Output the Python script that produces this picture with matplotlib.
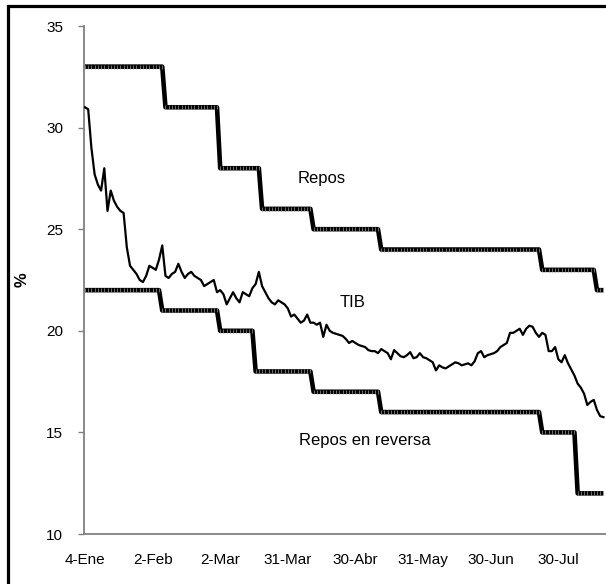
import numpy as np
import matplotlib
import matplotlib.pyplot as plt
from matplotlib.patches import Rectangle
matplotlib.use('Agg')

plt.rcParams['font.family'] = ['Liberation Sans', 'DejaVu Sans']

# business-day index, one tick label every 21 days
tick_labels = ['4-Ene', '2-Feb', '2-Mar', '31-Mar', '30-Abr', '31-May',
               '30-Jun', '30-Jul']
tick_step = 21

# step series: level and number of days at that level
repos_levels = [33, 31, 28, 26, 25, 24, 23, 22]
repos_days = [25, 17, 13, 16, 21, 50, 17, 3]
reversa_levels = [22, 21, 20, 18, 17, 16, 15, 12]
reversa_days = [24, 18, 11, 18, 21, 50, 11, 9]

tib = [31.0, 30.9, 29.0, 27.7, 27.2, 26.9, 28.0, 25.9, 26.9, 26.4,
       26.1, 25.9, 25.8, 24.1, 23.2, 23.0, 22.8, 22.5, 22.4, 22.7,
       23.2, 23.1, 23.0, 23.5, 24.2, 22.7, 22.6, 22.8, 22.9, 23.3,
       22.9, 22.6, 22.8, 22.9, 22.7, 22.6, 22.5, 22.2, 22.3, 22.4,
       22.5, 21.9, 22.0, 21.8, 21.3, 21.6, 21.9, 21.6, 21.4, 21.9,
       21.8, 21.7, 22.1, 22.3, 22.9, 22.2, 21.9, 21.6, 21.4, 21.3,
       21.5, 21.4, 21.3, 21.1, 20.7, 20.8, 20.6, 20.4, 20.5, 20.8,
       20.4, 20.4, 20.3, 20.4, 19.7, 20.3, 20.0, 19.9, 19.85, 19.8,
       19.75, 19.6, 19.4, 19.5, 19.4, 19.3, 19.25, 19.2, 19.05, 19.0,
       19.0, 18.9, 19.1, 19.0, 18.9, 18.6, 19.05, 18.9, 18.75, 18.7,
       18.8, 18.95, 18.65, 18.7, 18.9, 18.7, 18.65, 18.55, 18.45, 18.05,
       18.3, 18.2, 18.15, 18.25, 18.35, 18.45, 18.4, 18.3, 18.35, 18.4,
       18.3, 18.5, 18.9, 19.0, 18.7, 18.8, 18.85, 18.9, 19.0, 19.2,
       19.3, 19.4, 19.9, 19.9, 20.0, 20.1, 19.8, 20.1, 20.25, 20.2,
       19.9, 19.7, 19.9, 19.8, 19.0, 19.0, 19.2, 18.6, 18.45, 18.8,
       18.4, 18.1, 17.8, 17.4, 17.2, 16.9, 16.35, 16.5, 16.6, 16.1,
       15.8, 15.75]

repos = np.repeat(repos_levels, repos_days)
reversa = np.repeat(reversa_levels, reversa_days)
x = np.arange(len(tib))

fig = plt.figure(figsize=(6.06, 5.84), dpi=100)
ax = fig.add_axes([84 / 606, 1 - 534 / 584, 1 - 84 / 606, (534 - 26) / 584])

for s in (repos, reversa):
    ax.plot(x, s, color='black', lw=3.3, solid_capstyle='butt', zorder=3)
    ax.plot(x, s, ls='none', marker='|', ms=3.2, mew=0.5, mec='#9a9a9a',
            zorder=4)
ax.plot(x, tib, color='black', lw=1.6, zorder=3)

ax.text(66, 27.5, 'Repos', fontsize=12, va='center', ha='left')
ax.text(79, 21.4, 'TIB', fontsize=12, va='center', ha='left')
ax.text(66.5, 14.6, 'Repos en reversa', fontsize=12, va='center',
        ha='left')

ax.set_xlim(-0.3, 161.8)
ax.set_ylim(10, 35)
ax.set_yticks([10, 15, 20, 25, 30, 35])
ax.set_xticks(np.arange(len(tick_labels)) * tick_step)
ax.set_xticklabels(tick_labels)
ax.tick_params(axis='x', length=0, pad=14, labelsize=11)
ax.tick_params(axis='y', length=4, width=1, color='#808080', pad=11,
               labelsize=11)
ax.set_ylabel('%', fontsize=12, fontweight='bold', labelpad=12)

for side in ('top', 'right'):
    ax.spines[side].set_visible(False)
for side in ('left', 'bottom'):
    ax.spines[side].set_color('#808080')
    ax.spines[side].set_linewidth(1.3)

# chart frame, cut off at the right and bottom
fig.patches.append(Rectangle((7.5 / 606, -0.1), 1.2, 1.1 - 6.5 / 584,
                             transform=fig.transFigure, fill=False,
                             ec='black', lw=2.3))

plt.savefig('out.png', dpi=100)
